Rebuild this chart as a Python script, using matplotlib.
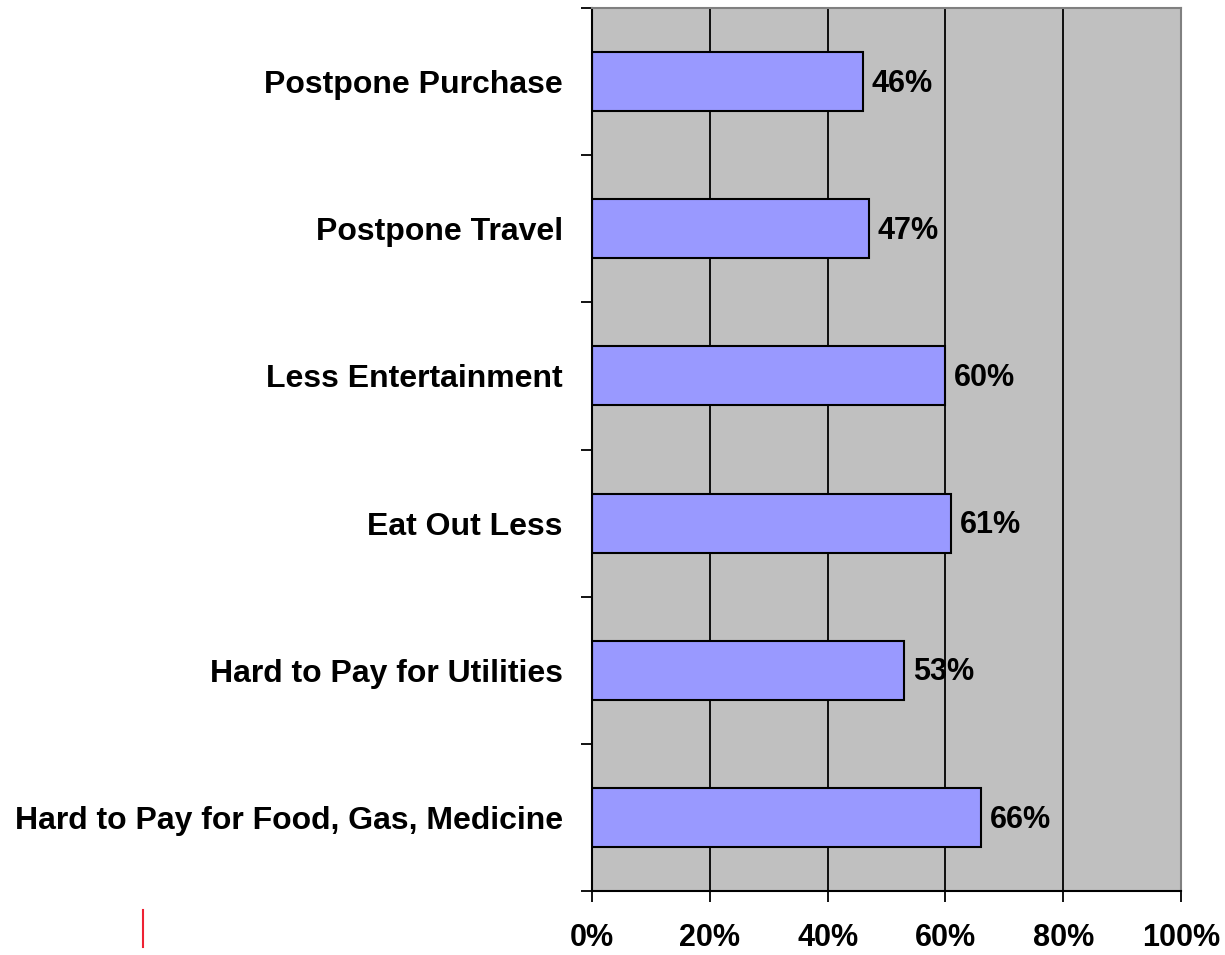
import numpy as np
import matplotlib
matplotlib.use("Agg")
import matplotlib.pyplot as plt
from matplotlib.lines import Line2D

# bottom to top
categories = [
    "Hard to Pay for Food, Gas, Medicine",
    "Hard to Pay for Utilities",
    "Eat Out Less",
    "Less Entertainment",
    "Postpone Travel",
    "Postpone Purchase",
]
values = [66, 53, 61, 60, 47, 46]
x_ticks = [0, 20, 40, 60, 80, 100]
x_tick_labels = ["0%", "20%", "40%", "60%", "80%", "100%"]

plt.rcParams["font.family"] = ["Liberation Sans", "DejaVu Sans"]
plt.rcParams["font.weight"] = "bold"

fig = plt.figure(figsize=(12.25, 9.55), dpi=100)
fig.patch.set_facecolor("white")
ax = fig.add_axes([592 / 1225, 1 - 891 / 955, (1181 - 592) / 1225, (891 - 8) / 955])
ax.set_facecolor("#C0C0C0")

y = np.arange(len(categories))
ax.set_xlim(0, 100)
ax.set_ylim(-0.5, len(categories) - 0.5)

# vertical gridlines
for t in x_ticks[1:-1]:
    ax.axvline(t, color="black", linewidth=1.3, zorder=1)

ax.barh(y, values, height=0.4, color="#9999FF", edgecolor="black",
        linewidth=1.5, zorder=2)
for yi, v in zip(y, values):
    ax.text(v + 1.5, yi - 0.015, f"{v}%", va="center", ha="left", fontsize=22,
            fontweight="bold", zorder=3)

ax.set_yticks(y)
ax.set_yticklabels(categories, fontsize=23, fontweight="bold")
ax.tick_params(axis="y", which="major", length=0, pad=21)
ax.set_yticks(np.arange(-0.5, len(categories)), minor=True)
ax.tick_params(axis="y", which="minor", length=8, width=1.3, color="black")

ax.set_xticks(x_ticks)
ax.set_xticklabels(x_tick_labels, fontsize=22, fontweight="bold")
ax.tick_params(axis="x", length=8, width=1.3, pad=15)

for side in ("left", "bottom"):
    ax.spines[side].set_color("black")
    ax.spines[side].set_linewidth(1.5)
for side in ("top", "right"):
    ax.spines[side].set_color("#808080")
    ax.spines[side].set_linewidth(1.5)

# stray red mark at lower left
fig.add_artist(Line2D([143 / 1225, 143 / 1225], [1 - 947 / 955, 1 - 910 / 955],
                      color="#EE2233", linewidth=1.5))

fig.savefig("out.png", dpi=100, facecolor="white")
plt.close(fig)
